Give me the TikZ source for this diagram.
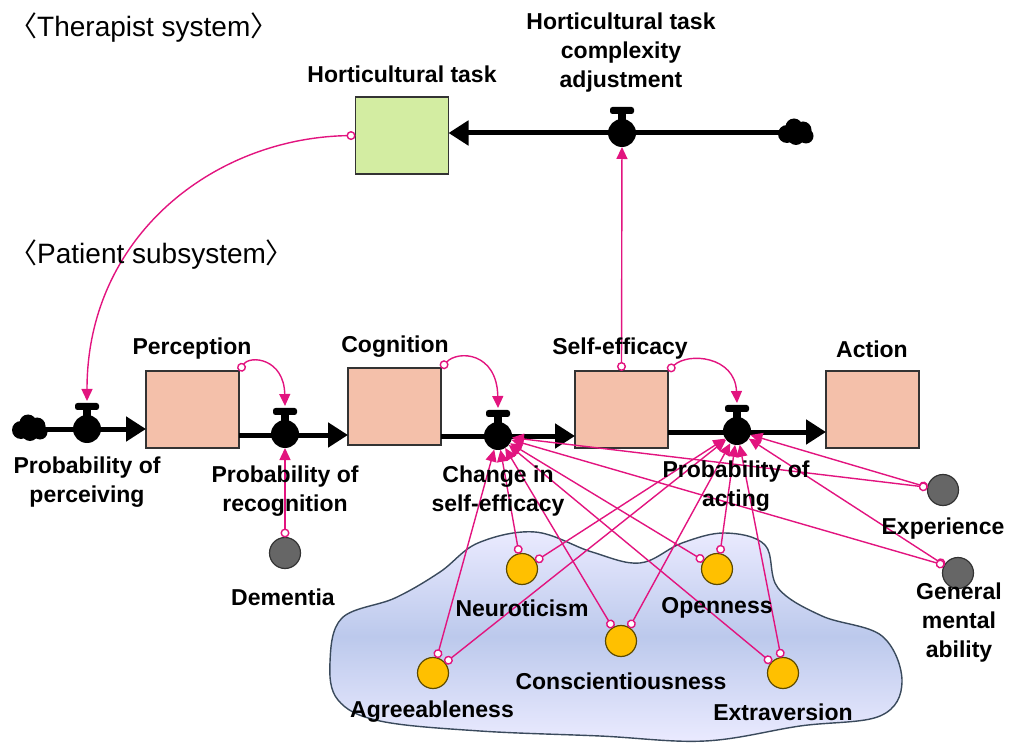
\documentclass[tikz,border=0pt]{standalone}
\usepackage{fontspec}
\setmainfont{Liberation Sans}
\newfontfamily\cjkfont{Noto Sans CJK SC}
\usetikzlibrary{arrows.meta}
\definecolor{lnk}{HTML}{E2147F}
\definecolor{stockfill}{HTML}{F4C0AA}
\definecolor{taskfill}{HTML}{D3EDA2}
\definecolor{traitfill}{HTML}{FFC000}
\definecolor{traitline}{HTML}{5C4A00}
\definecolor{greyfill}{HTML}{666666}
\definecolor{blobline}{HTML}{3A4A5C}
\newcommand{\lbr}{{\cjkfont 〈}}
\newcommand{\rbr}{{\cjkfont 〉}}
\tikzset{
  stockbox/.style={draw=black!80, line width=1.1pt, minimum width=93pt, minimum height=77pt, inner sep=0pt, outer sep=0pt},
  valvebody/.style={circle, fill=black, minimum size=28pt, inner sep=0pt, outer sep=0pt},
  pipe/.style={line width=5pt, -{Triangle[length=20pt,width=24pt]}},
  link/.style={draw=lnk, line width=1.4pt, {Circle[length=9pt,fill=white]}-{Triangle[length=12pt,width=11pt]}},
  trait/.style={circle, draw=traitline, line width=1.2pt, fill=traitfill, minimum size=31pt, inner sep=0pt, outer sep=0pt},
  factor/.style={circle, draw=black!80, line width=1.2pt, fill=greyfill, minimum size=31pt, inner sep=0pt, outer sep=0pt},
  lbl/.style={font=\fontsize{23}{29}\selectfont\bfseries, align=center, inner sep=0pt},
  head/.style={font=\fontsize{28}{32}\selectfont, inner sep=0pt},
}
% valve: name, x, y
\newcommand{\valve}[3]{%
  \node[valvebody] (#1) at (#2,#3) {};
  \fill (#2-4,#3-21) rectangle (#2+4,#3-10);
  \fill[rounded corners=2.5pt] (#2-12,#3-26) rectangle (#2+12,#3-19);
  \coordinate (#1top) at (#2,#3-28);
}
% cloud: name, x, y
\newcommand{\sourcecloud}[3]{%
  \coordinate (#1) at (#2,#3);
  \fill (#2-9,#3+1) circle (9);
  \fill (#2-2,#3-6) circle (8.5);
  \fill (#2+7,#3-3) circle (8.5);
  \fill (#2+10,#3+3) circle (7.5);
  \fill (#2,#3+4) circle (8);
}
\begin{document}
\begin{tikzpicture}[x=1pt,y=-1pt]
\useasboundingbox (0,0) rectangle (1010,751);

% personality region
\shade[top color=blue!8!white, bottom color=blue!8!white, middle color={rgb,255:red,188;green,201;blue,236}, draw=blobline, line width=1.4pt]
  plot[smooth cycle, tension=0.6] coordinates {
  (330,662) (342,618) (395,598) (440,572) (478,543) (535,532) (592,552) (640,563)
  (682,543) (725,533) (765,545) (778,588) (822,616) (882,636) (902,682) (880,716)
  (800,726) (705,741) (600,736) (480,731) (380,721) (338,700)};

% stocks
\node[stockbox, fill=taskfill] (task) at (402,135.5) {};
\node[stockbox, fill=stockfill] (perc) at (192.5,409.5) {};
\node[stockbox, fill=stockfill] (cogn) at (394.5,406.5) {};
\node[stockbox, fill=stockfill] (self) at (621.5,409.5) {};
\node[stockbox, fill=stockfill] (act) at (872.5,409.5) {};

% clouds
\sourcecloud{cloudL}{30}{429}
\sourcecloud{cloudT}{796}{133}

% flows
\draw[pipe] (cloudT) -- (task.east |- cloudT);
\draw[pipe] (cloudL) -- (perc.west |- cloudL);
\draw[pipe] (perc.east |- 0,435) -- (cogn.west |- 0,435);
\draw[pipe] (cogn.east |- 0,436) -- (self.west |- 0,436);
\draw[pipe] (self.east |- 0,432) -- (act.west |- 0,432);

% valves
\valve{vadj}{622}{133}
\valve{vperc}{87}{429}
\valve{vrec}{285}{434}
\valve{vchg}{498}{436}
\valve{vact}{737}{431}

% auxiliary variables
\node[factor] (dem) at (285,553) {};
\node[factor] (exp) at (943,490) {};
\node[factor] (gma) at (958,573) {};
\node[trait] (neu) at (522,569) {};
\node[trait] (ope) at (717,569) {};
\node[trait] (con) at (621,641) {};
\node[trait] (agr) at (433,673) {};
\node[trait] (ext) at (783,673) {};

% information links
\coordinate (taskL) at (task.west);
\draw[link] (taskL) .. controls (215,138) and (87,235) .. (vperctop);
\draw[link] (perc.north east) .. controls (250,355) and (284,358) .. (vrectop);
\draw[link] (cogn.north east) .. controls (458,350) and (497,352) .. (vchgtop);
\draw[link] (self.north east) .. controls (688,352) and (735,356) .. (vacttop);
\draw[link] (self.north) -- (vadj);
\draw[link] (dem.north) -- (vrec);

\draw[link] (exp.170) -- (vact);
\draw[link] (exp.170) -- (vchg);
\draw[link] (gma.150) -- (vact);
\draw[link] (gma.150) -- (vchg);

\draw[link] (agr.76) -- (vchg);
\draw[link] (agr.40) -- (vact);
\draw[link] (neu.101) -- (vchg);
\draw[link] (neu.30) -- (vact);
\draw[link] (con.122) -- (vchg);
\draw[link] (con.58) -- (vact);
\draw[link] (ope.148) -- (vchg);
\draw[link] (ope.79) -- (vact);
\draw[link] (ext.138) -- (vchg);
\draw[link] (ext.97) -- (vact);

% headings
\node[head, anchor=west] (hther) at (9,28) {\lbr Therapist system\rbr};
\node[head, anchor=west] (hpat) at (9,255) {\lbr Patient subsystem\rbr};

% labels
\node[lbl] (ltask) at (402,74) {Horticultural task};
\node[lbl] (ladj) at (621,53) {Horticultural task\\complexity\\adjustment};
\node[lbl] (lperc) at (192,349) {Perception};
\node[lbl] (lcogn) at (395,347) {Cognition};
\node[lbl] (lself) at (620,349) {Self-efficacy};
\node[lbl] (lact) at (872,349) {Action};
\node[lbl] (lvperc) at (87,482) {Probability of\\perceiving};
\node[lbl] (lvrec) at (285,491) {Probability of\\recognition};
\node[lbl] (lvchg) at (498,491) {Change in\\self-efficacy};
\node[lbl] (lvact) at (736,486) {Probability of\\acting};
\node[lbl] (ldem) at (283,597) {Dementia};
\node[lbl] (lexp) at (943,529) {Experience};
\node[lbl] (lgma) at (959,623) {General\\mental\\ability};
\node[lbl] (lneu) at (522,608) {Neuroticism};
\node[lbl] (lope) at (717,608) {Openness};
\node[lbl] (lcon) at (621,681) {Conscientiousness};
\node[lbl] (lagr) at (432,712) {Agreeableness};
\node[lbl] (lext) at (783,712) {Extraversion};
\end{tikzpicture}
\end{document}
